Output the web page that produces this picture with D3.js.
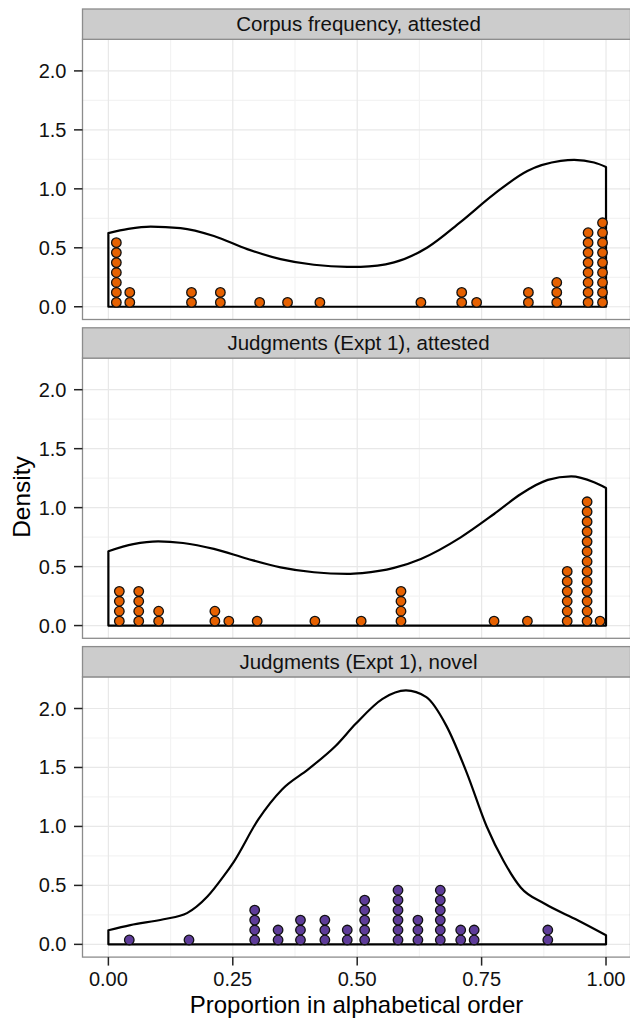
<!DOCTYPE html>
<html><head><meta charset="utf-8">
<script src="https://cdn.jsdelivr.net/npm/d3@7"></script>
<style>body{margin:0;background:#fff}svg{display:block}text{font-family:"Liberation Sans",Arial,sans-serif}</style>
</head><body><svg id="c" width="630" height="1019"></svg>
<script>
// ---- data ----
const panelTitles = ["Corpus frequency, attested", "Judgments (Expt 1), attested", "Judgments (Expt 1), novel"];
const panelColors = ["#E66101", "#E66101", "#5E3C99"];

// dot stacks (x bin centre, count)
const dots1X = [0.016, 0.043, 0.167, 0.225, 0.304, 0.360, 0.425, 0.628, 0.710, 0.740, 0.844, 0.901, 0.964, 0.993];
const dots1N = [7, 2, 2, 2, 1, 1, 1, 1, 2, 1, 2, 3, 8, 9];
const dots2X = [0.022, 0.061, 0.101, 0.214, 0.242, 0.299, 0.415, 0.508, 0.588, 0.775, 0.842, 0.922, 0.962, 0.988];
const dots2N = [4, 4, 2, 2, 1, 1, 1, 1, 4, 1, 1, 6, 13, 1];
const dots3X = [0.042, 0.162, 0.294, 0.341, 0.386, 0.435, 0.480, 0.515, 0.582, 0.622, 0.667, 0.708, 0.735, 0.883];
const dots3N = [1, 1, 4, 2, 3, 3, 2, 5, 6, 3, 6, 2, 2, 2];

// density curves
const dens1X = [0, 0.04, 0.085, 0.145, 0.212, 0.279, 0.346, 0.413, 0.48, 0.507, 0.574, 0.641, 0.708, 0.775, 0.842, 0.909, 0.936, 0.976, 1.0];
const dens1Y = [0.625, 0.66, 0.68, 0.667, 0.60, 0.489, 0.404, 0.356, 0.339, 0.339, 0.376, 0.503, 0.72, 0.955, 1.152, 1.237, 1.246, 1.223, 1.186];
const dens2X = [0, 0.05, 0.10, 0.15, 0.212, 0.279, 0.346, 0.413, 0.48, 0.51, 0.574, 0.628, 0.708, 0.775, 0.829, 0.883, 0.93, 0.976, 1.0];
const dens2Y = [0.63, 0.69, 0.714, 0.70, 0.65, 0.567, 0.494, 0.452, 0.438, 0.445, 0.489, 0.565, 0.748, 0.946, 1.116, 1.235, 1.265, 1.215, 1.167];
const dens3X = [0, 0.044, 0.111, 0.158, 0.199, 0.232, 0.252, 0.301, 0.349, 0.402, 0.457, 0.497, 0.551, 0.598, 0.639, 0.679, 0.72, 0.76, 0.795, 0.829, 0.876, 0.943, 1.0];
const dens3Y = [0.12, 0.163, 0.213, 0.265, 0.405, 0.58, 0.70, 1.058, 1.314, 1.486, 1.684, 1.87, 2.082, 2.153, 2.096, 1.855, 1.457, 1.002, 0.70, 0.48, 0.346, 0.205, 0.078];

const xTicks = [0, 0.25, 0.5, 0.75, 1.0];
const xTickLabels = ["0.00", "0.25", "0.50", "0.75", "1.00"];
const yTicks = [0, 0.5, 1.0, 1.5, 2.0];
const yTickLabels = ["0.0", "0.5", "1.0", "1.5", "2.0"];
const xTitle = "Proportion in alphabetical order";
const yTitle = "Density";
const binwidth = 0.02;

const panels = [
  {title: panelTitles[0], color: panelColors[0], dx: dots1X, dn: dots1N, cx: dens1X, cy: dens1Y},
  {title: panelTitles[1], color: panelColors[1], dx: dots2X, dn: dots2N, cx: dens2X, cy: dens2Y},
  {title: panelTitles[2], color: panelColors[2], dx: dots3X, dn: dots3N, cx: dens3X, cy: dens3Y}
];

// ---- layout ----
const svg = d3.select("#c");
const L = 82.5, R = 630.5;
const top0 = 9, stripH = 30.3, panelH = 280.2, gap = 8.3;
const x = d3.scaleLinear().domain([-0.05, 1.05]).range([83.5, 630.9]);

panels.forEach((p, i) => {
  const sTop = top0 + i * (stripH + panelH + gap);
  const pTop = sTop + stripH, pBot = pTop + panelH;
  const y = d3.scaleLinear().domain([-0.108, 2.268]).range([pBot, pTop]);
  const g = svg.append("g");

  g.append("rect").attr("x", L).attr("y", pTop).attr("width", R - L).attr("height", panelH).attr("fill", "#fff");
  const minorX = [0.125, 0.375, 0.625, 0.875];
  const minorY = [0.25, 0.75, 1.25, 1.75];
  g.selectAll(null).data(minorX).enter().append("line")
    .attr("x1", d => x(d)).attr("x2", d => x(d)).attr("y1", pTop).attr("y2", pBot)
    .attr("stroke", "#f3f3f3").attr("stroke-width", 1.2);
  g.selectAll(null).data(minorY).enter().append("line")
    .attr("y1", d => y(d)).attr("y2", d => y(d)).attr("x1", L).attr("x2", R)
    .attr("stroke", "#f3f3f3").attr("stroke-width", 1.2);
  g.selectAll(null).data(xTicks).enter().append("line")
    .attr("x1", d => x(d)).attr("x2", d => x(d)).attr("y1", pTop).attr("y2", pBot)
    .attr("stroke", "#e8e8e8").attr("stroke-width", 1.2);
  g.selectAll(null).data(yTicks).enter().append("line")
    .attr("y1", d => y(d)).attr("y2", d => y(d)).attr("x1", L).attr("x2", R)
    .attr("stroke", "#e8e8e8").attr("stroke-width", 1.2);

  // density outline
  const pts = p.cx.map((v, k) => [x(v), y(p.cy[k])]);
  const line = d3.line().curve(d3.curveMonotoneX);
  const top = line(pts);
  const n = p.cx.length;
  const d = "M" + x(p.cx[0]) + "," + y(0) + "L" + top.slice(1) +
            "L" + x(p.cx[n - 1]) + "," + y(0) + "Z";
  g.append("path").attr("d", d).attr("fill", "none").attr("stroke", "#000")
    .attr("stroke-width", 2.2).attr("stroke-linejoin", "round");

  // dots
  const diam = x(binwidth) - x(0);
  const r = diam / 2;
  const dotData = [];
  p.dx.forEach((v, k) => { for (let j = 0; j < p.dn[k]; j++) dotData.push({x: v, j: j}); });
  g.selectAll(null).data(dotData).enter().append("circle")
    .attr("cx", d => x(d.x)).attr("cy", d => y(0) - r + 0.6 - d.j * diam)
    .attr("r", r - 0.2).attr("fill", p.color).attr("stroke", "#111").attr("stroke-width", 1.3);

  g.append("rect").attr("x", L).attr("y", pTop).attr("width", R - L).attr("height", panelH)
    .attr("fill", "none").attr("stroke", "#8c8c8c").attr("stroke-width", 1.3);

  g.append("rect").attr("x", L).attr("y", sTop).attr("width", R - L).attr("height", stripH)
    .attr("fill", "#cccccc").attr("stroke", "#8c8c8c").attr("stroke-width", 1.3);
  g.append("text").attr("x", (L + R) / 2 + 2).attr("y", sTop + stripH / 2 + 7)
    .attr("text-anchor", "middle").attr("font-size", 20.5).attr("fill", "#111").text(p.title);

  g.selectAll(null).data(yTicks).enter().append("line")
    .attr("x1", L - 8.5).attr("x2", L).attr("y1", d => y(d)).attr("y2", d => y(d))
    .attr("stroke", "#222").attr("stroke-width", 1.5);
  g.selectAll(null).data(yTicks).enter().append("text")
    .attr("x", 66.5).attr("y", d => y(d) + 7).attr("text-anchor", "end")
    .attr("font-size", 20).attr("fill", "#111").text((d, k) => yTickLabels[k]);

  if (i === panels.length - 1) {
    g.selectAll(null).data(xTicks).enter().append("line")
      .attr("x1", d => x(d)).attr("x2", d => x(d)).attr("y1", pBot).attr("y2", pBot + 8.5)
      .attr("stroke", "#222").attr("stroke-width", 1.5);
    g.selectAll(null).data(xTicks).enter().append("text")
      .attr("x", d => x(d)).attr("y", 986).attr("text-anchor", "middle")
      .attr("font-size", 20).attr("fill", "#111").text((d, k) => xTickLabels[k]);
  }
});

svg.append("text").attr("x", (L + R) / 2).attr("y", 1013).attr("text-anchor", "middle")
  .attr("font-size", 24).attr("fill", "#000").text(xTitle);
svg.append("text").attr("transform", "translate(30,497) rotate(-90)").attr("text-anchor", "middle")
  .attr("font-size", 24.5).attr("fill", "#000").text(yTitle);
</script></body></html>
